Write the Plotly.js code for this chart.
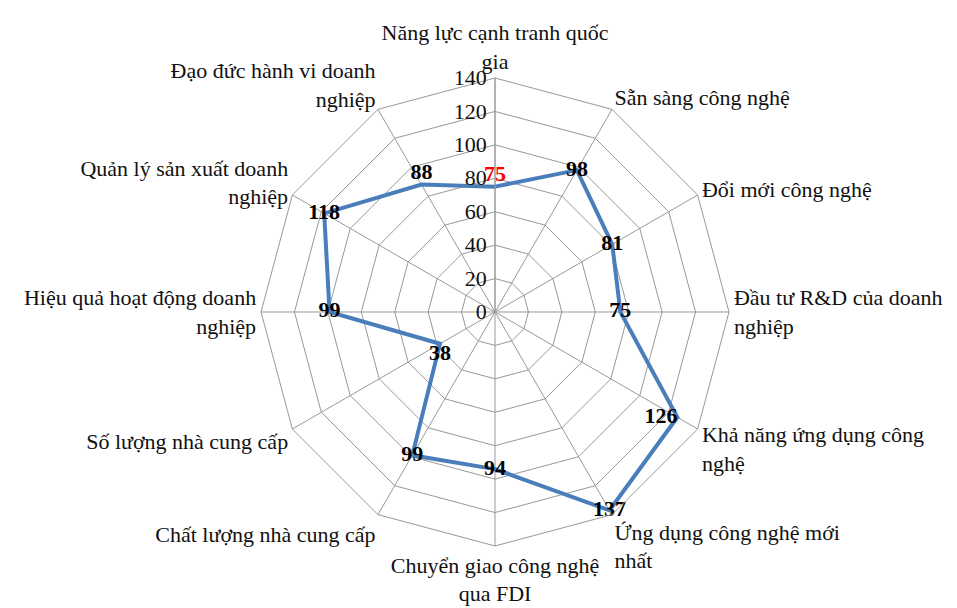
<!DOCTYPE html>
<html>
<head>
<meta charset="utf-8">
<script src="https://cdn.plot.ly/plotly-3.0.1.min.js"></script>
<style>
html,body{margin:0;padding:0;background:#fff;}
#chart{width:957px;height:608px;}
</style>
</head>
<body>
<div id="chart"></div>
<script>
const categories = [
  "Năng lực cạnh tranh quốc<br>gia",
  "Sẵn sàng công nghệ",
  "Đổi mới công nghệ",
  "Đầu tư R&D của doanh<br>nghiệp",
  "Khả năng ứng dụng công<br>nghệ",
  "Ứng dụng công nghệ mới<br>nhất",
  "Chuyển giao công nghệ<br>qua FDI",
  "Chất lượng nhà cung cấp",
  "Số lượng nhà cung cấp",
  "Hiệu quả hoạt động doanh<br>nghiệp",
  "Quản lý sản xuất doanh<br>nghiệp",
  "Đạo đức hành vi doanh<br>nghiệp"
];
const values = [75, 98, 81, 75, 126, 137, 94, 99, 38, 99, 118, 88];
const labelColors = ["#ff0000","#000","#000","#000","#000","#000","#000","#000","#000","#000","#000","#000"];
const labelPositions = ["top center","middle center","middle center","middle center","middle left","middle center","middle center","middle center","bottom center","middle center","middle center","top center"];
const radialTicks = [0, 20, 40, 60, 80, 100, 120, 140];

const serif = "Liberation Serif";
const theta = categories.concat([categories[0]]);
const r = values.concat([values[0]]);

const trace = {
  type: "scatterpolar",
  r: r,
  theta: theta,
  mode: "lines+text",
  text: values.map(String).concat([""]),
  textposition: labelPositions.concat(["middle center"]),
  textfont: {family: serif, size: 22, color: labelColors.concat(["#000"]), weight: "bold"},
  line: {color: "#4a7ebb", width: 4},
  hoverinfo: "skip",
  cliponaxis: false
};

const layout = {
  width: 957, height: 608,
  margin: {l: 0, r: 0, t: 0, b: 0},
  paper_bgcolor: "#fff",
  showlegend: false,
  font: {family: serif, size: 22, color: "#111"},
  polar: {
    domain: {x: [0.2727, 0.7618], y: [0.102, 0.8717]},
    gridshape: "linear",
    bgcolor: "#fff",
    radialaxis: {
      range: [0, 140],
      tickvals: radialTicks,
      ticktext: radialTicks.map(String),
      angle: 90,
      tickangle: 90,
      side: "counterclockwise",
      showline: true,
      linecolor: "#999",
      linewidth: 1,
      gridcolor: "#999",
      gridwidth: 1,
      ticks: "",
      tickfont: {family: serif, size: 22, color: "#111"}
    },
    angularaxis: {
      type: "category",
      direction: "clockwise",
      rotation: 90,
      linecolor: "#999",
      linewidth: 1,
      gridcolor: "#999",
      gridwidth: 1,
      ticks: "",
      tickfont: {family: serif, size: 22, color: "#111"}
    }
  }
};

Plotly.newPlot("chart", [trace], layout, {displayModeBar: false, staticPlot: true});
</script>
</body>
</html>
